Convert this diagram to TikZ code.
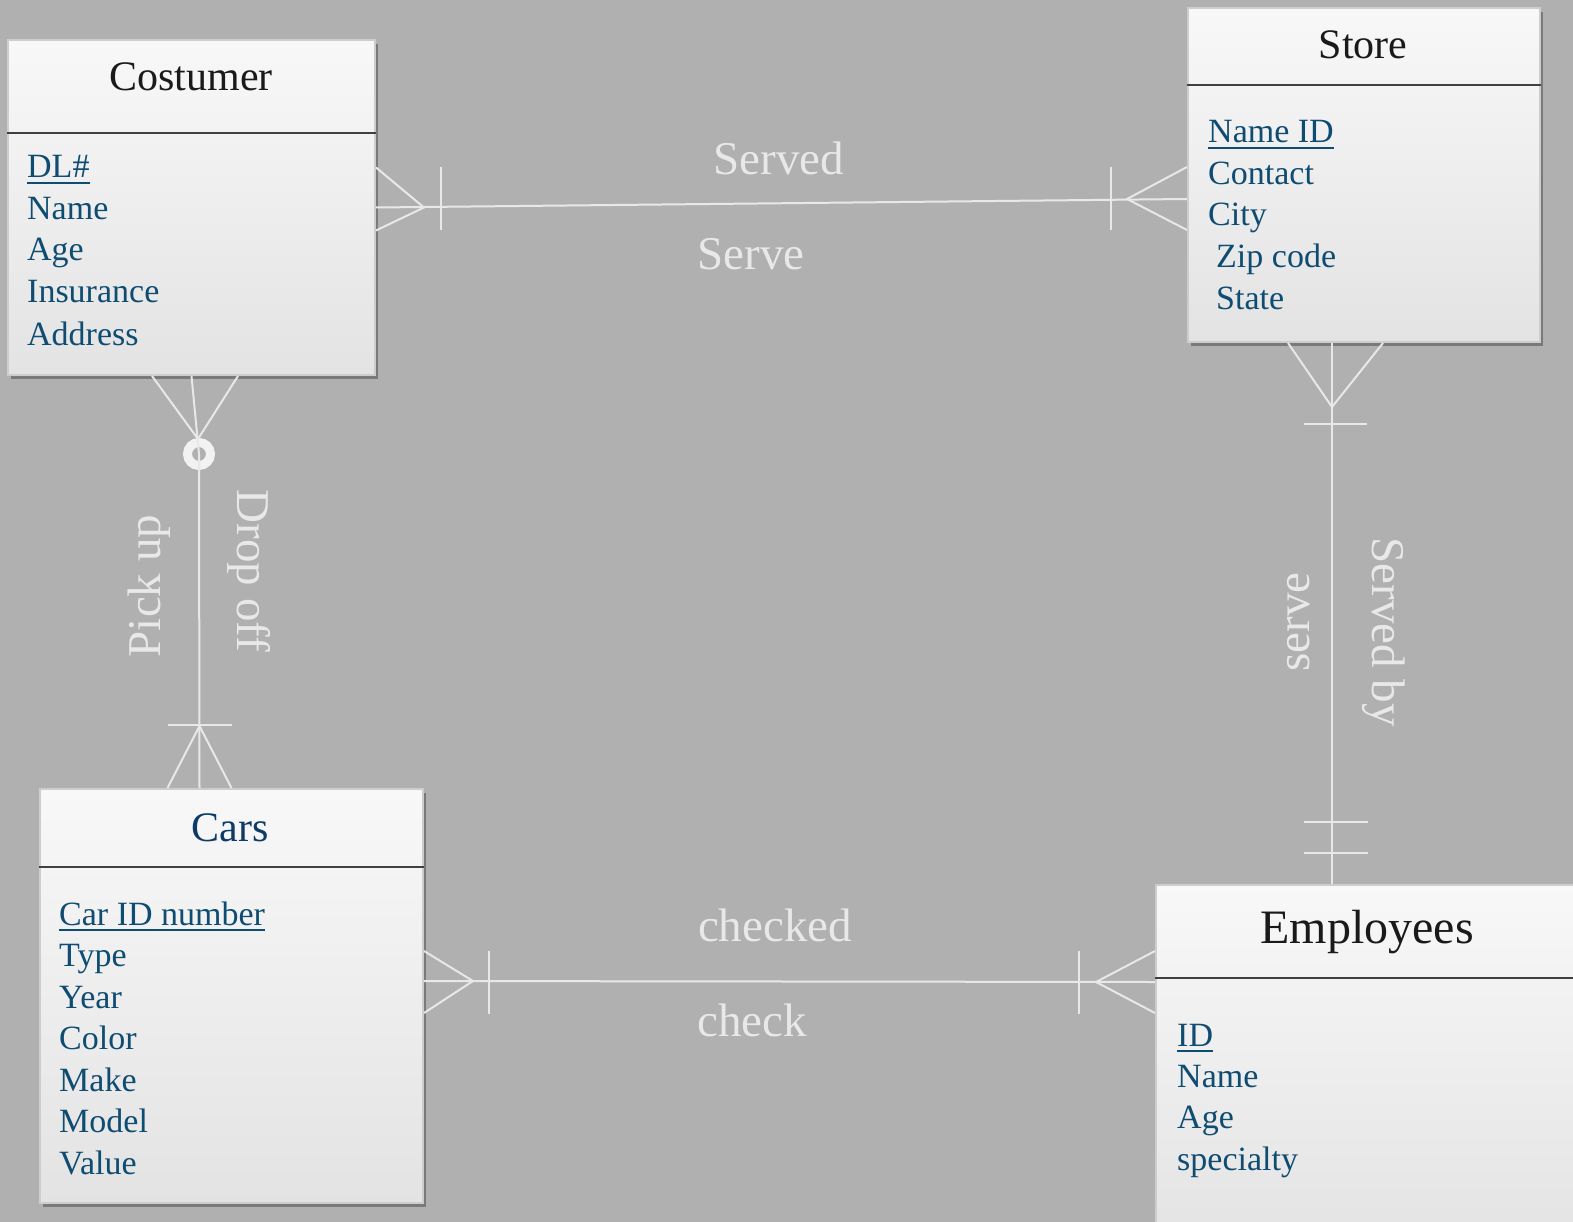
\documentclass[tikz,border=0pt]{standalone}
\usepackage{fontspec}
\setmainfont{Liberation Serif}
\usetikzlibrary{calc,shadows}
\definecolor{bg}{HTML}{B0B0B0}
\definecolor{attrc}{HTML}{0F4C72}
\definecolor{lnc}{HTML}{E8E8E8}
\definecolor{ringc}{HTML}{F2F2F2}
\definecolor{boxtop}{HTML}{F8F8F8}
\definecolor{boxbot}{HTML}{E3E3E3}
\definecolor{boxedge}{HTML}{CDCDCD}
\definecolor{sepc}{HTML}{404040}
\definecolor{titc}{HTML}{1A1A1A}
\definecolor{carsc}{HTML}{0E3B66}
\newcommand\keyattr[1]{\setbox0\hbox{#1}\rlap{\rule[-6pt]{\wd0}{2pt}}\box0}
\begin{document}
\begin{tikzpicture}[x=1pt,y=-1pt,
  entity/.style={draw=boxedge, line width=2pt, top color=boxtop, bottom color=boxbot, inner sep=0pt,
    drop shadow={shadow xshift=3pt, shadow yshift=-4pt, opacity=.3, fill=black}},
  sepline/.style={draw=sepc, line width=2.5pt},
  title/.style={anchor=base, inner sep=0pt, font=\fontsize{42}{50}\selectfont, text=titc},
  attr/.style={anchor=base west, inner sep=0pt, font=\fontsize{34}{40}\selectfont, text=attrc},
  lbl/.style={anchor=base, inner sep=0pt, font=\fontsize{47}{56}\selectfont, text=lnc},
  rel/.style={draw=lnc, line width=2pt}]
\fill[bg] (0,0) rectangle (1573,1222);
\useasboundingbox (0,0) rectangle (1573,1222);

% ---------- entities ----------
\node[entity, minimum width=367pt, minimum height=335pt] (cost) at (191.5,207.5) {};
\node[entity, minimum width=352pt, minimum height=334pt] (store) at (1364,175) {};
\node[entity, minimum width=383pt, minimum height=414pt] (cars) at (231.5,996) {};
\node[entity, minimum width=434pt, minimum height=365pt] (emp) at (1373,1067.5) {};

\draw[sepline] ($(cost.north west)+(0,94)$) -- ($(cost.north east)+(0,94)$);
\draw[sepline] ($(store.north west)+(0,78)$) -- ($(store.north east)+(0,78)$);
\draw[sepline] ($(cars.north west)+(0,79)$) -- ($(cars.north east)+(0,79)$);
\draw[sepline] ($(emp.north west)+(0,94)$) -- ($(emp.north east)+(0,94)$);

% titles
\node[title] (costT) at (191,91) {Costumer};
\node[title] (storeT) at (1363,59) {Store};
\node[title, text=carsc] (carsT) at (230,841) {Cars};
\node[title, font=\fontsize{48}{56}\selectfont] (empT) at (1367,943) {Employees};

% Costumer attributes
\node[attr] (c1) at (27,178) {\keyattr{DL\#}};
\node[attr] (c2) at (27,220) {Name};
\node[attr] (c3) at (27,261) {Age};
\node[attr] (c4) at (27,303) {Insurance};
\node[attr] (c5) at (27,345) {Address};

% Store attributes
\node[attr] (s1) at (1208,143) {\keyattr{Name ID}};
\node[attr] (s2) at (1208,184.5) {Contact};
\node[attr] (s3) at (1208,226) {City};
\node[attr] (s4) at (1216,268) {Zip code};
\node[attr] (s5) at (1216,309.5) {State};

% Cars attributes
\node[attr] (a1) at (59,925) {\keyattr{Car ID number}};
\node[attr] (a2) at (59,966) {Type};
\node[attr] (a3) at (59,1008) {Year};
\node[attr] (a4) at (59,1049) {Color};
\node[attr] (a5) at (59,1091) {Make};
\node[attr] (a6) at (59,1132) {Model};
\node[attr] (a7) at (59,1174) {Value};

% Employees attributes
\node[attr] (e1) at (1177,1046) {\keyattr{ID}};
\node[attr] (e2) at (1177,1087) {Name};
\node[attr] (e3) at (1177,1128) {Age};
\node[attr] (e4) at (1177,1170) {specialty};

% ---------- Costumer -- Store ----------
\draw[rel] (cost.east) -- ($(store.west)+(0,24)$);
\draw[rel] ($(cost.east)+(0,-40)$) -- ($(cost.east)+(48,0)$) -- ($(cost.east)+(0,23)$);
\draw[rel] ($(cost.east)+(65,-40)$) -- ($(cost.east)+(65,23)$);
\draw[rel] ($(store.west)+(0,-8)$) -- ($(store.west)+(-60,24)$) -- ($(store.west)+(0,55)$);
\draw[rel] ($(store.west)+(-76,-8)$) -- ($(store.west)+(-76,55)$);
\node[lbl] (lServed) at (779,175) {Served};
\node[lbl] (lServe) at (751,270) {Serve};

% ---------- Costumer -- Cars ----------
\node[circle, draw=ringc, line width=9pt, minimum size=23pt, inner sep=0pt] (opt) at (199,454) {};
\draw[rel] (cost.south) -- (opt.center) -- ($(cars.north)+(-32,0)$);
\draw[rel] ($(cost.south)+(-39.5,0)$) -- ($(cost.south)+(6.5,63)$) -- ($(cost.south)+(46.5,0)$);
\draw[rel] ($(cars.north)+(-64,0)$) -- ($(cars.north)+(-32,-62)$) -- ($(cars.north)+(0,0)$);
\draw[rel] ($(cars.north)+(-64,-63)$) -- ($(cars.north)+(0,-63)$);
\node[lbl, rotate=90] (lPick) at (160,586) {Pick up};
\node[lbl, rotate=-90] (lDrop) at (237,571) {Drop off};

% ---------- Store -- Employees ----------
\draw[rel] ($(store.south)+(-32,0)$) -- ($(emp.north)+(-41,0)$);
\draw[rel] ($(store.south)+(-76,0)$) -- ($(store.south)+(-32,64)$) -- ($(store.south)+(19,0)$);
\draw[rel] ($(store.south)+(-60,81)$) -- ($(store.south)+(3,81)$);
\draw[rel] ($(emp.north)+(-69,-62)$) -- ($(emp.north)+(-5,-62)$);
\draw[rel] ($(emp.north)+(-69,-31)$) -- ($(emp.north)+(-5,-31)$);
\node[lbl, rotate=90] (lserve) at (1309,622) {serve};
\node[lbl, rotate=-90] (lServedby) at (1372,632) {Served by};

% ---------- Cars -- Employees ----------
\draw[rel] ($(cars.east)+(0,-15)$) -- ($(emp.west)+(0,-85.5)$);
\draw[rel] ($(cars.east)+(0,-45)$) -- ($(cars.east)+(49,-15)$) -- ($(cars.east)+(0,17)$);
\draw[rel] ($(cars.east)+(65,-45)$) -- ($(cars.east)+(65,18)$);
\draw[rel] ($(emp.west)+(0,-116.5)$) -- ($(emp.west)+(-59,-85.5)$) -- ($(emp.west)+(0,-54.5)$);
\draw[rel] ($(emp.west)+(-76,-116.5)$) -- ($(emp.west)+(-76,-53.5)$);
\node[lbl] (lchecked) at (775,941) {checked};
\node[lbl] (lcheck) at (752,1036) {check};
\end{tikzpicture}
\end{document}
